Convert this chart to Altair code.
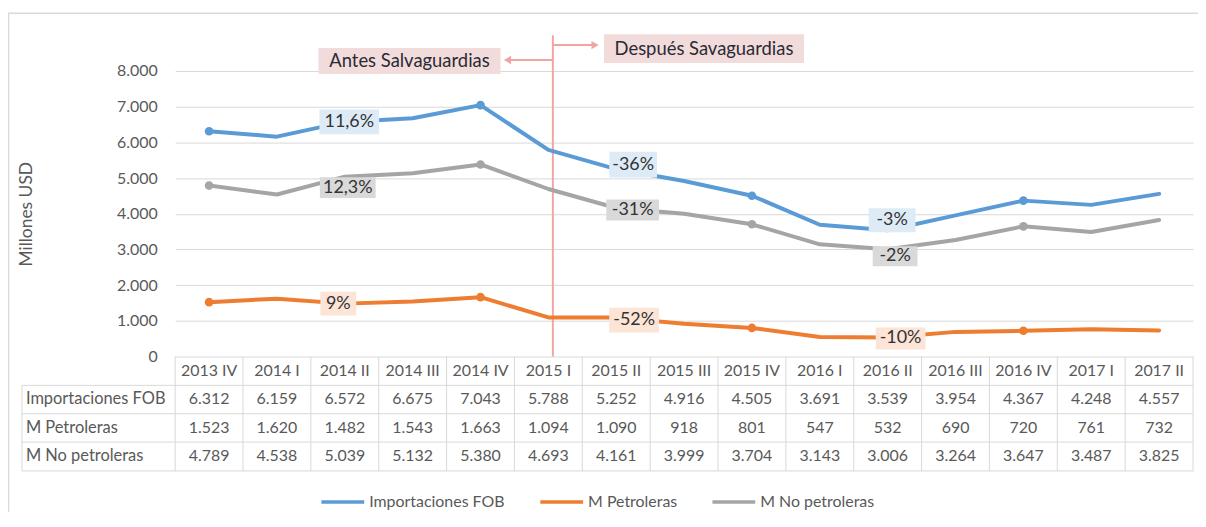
import altair as alt
import pandas as pd

# ---------------- data ----------------
categories = ["2013 IV", "2014 I", "2014 II", "2014 III", "2014 IV", "2015 I", "2015 II",
              "2015 III", "2015 IV", "2016 I", "2016 II", "2016 III", "2016 IV", "2017 I", "2017 II"]
importaciones_fob = [6312, 6159, 6572, 6675, 7043, 5788, 5252, 4916, 4505, 3691, 3539, 3954, 4367, 4248, 4557]
m_petroleras = [1523, 1620, 1482, 1543, 1663, 1094, 1090, 918, 801, 547, 532, 690, 720, 761, 732]
m_no_petroleras = [4789, 4538, 5039, 5132, 5380, 4693, 4161, 3999, 3704, 3143, 3006, 3264, 3647, 3487, 3825]
series_names = ["Importaciones FOB", "M Petroleras", "M No petroleras"]
series_values = [importaciones_fob, m_petroleras, m_no_petroleras]
marker_categories = ["2013 IV", "2014 IV", "2015 IV", "2016 IV"]
y_ticks = [0, 1000, 2000, 3000, 4000, 5000, 6000, 7000, 8000]

label_series = ["Importaciones FOB", "M No petroleras", "M Petroleras",
                "Importaciones FOB", "M No petroleras", "M Petroleras",
                "Importaciones FOB", "M No petroleras", "M Petroleras"]
label_categories = ["2014 II", "2014 II", "2014 II", "2015 II", "2015 II", "2015 II",
                    "2016 II", "2016 II", "2016 II"]
label_texts = ["11,6%", "12,3%", "9%", "-36%", "-31%", "-52%", "-3%", "-2%", "-10%"]

before_text = "Antes Salvaguardias"
after_text = "Después Savaguardias"
break_category = "2015 I"
y_title = "Millones USD"

# ---------------- style / layout ----------------
series_colors = ["#5B9BD5", "#ED7D31", "#A5A5A5"]
label_fill = {"Importaciones FOB": "#DDEBF7", "M Petroleras": "#FCE4D6", "M No petroleras": "#D9D9D9"}
label_dx = [4.5, 3, -6.5, 17, 16.5, 18, 4.5, 7.5, 13]
label_dy = [0, 11, 0, -4.5, 2, 2.5, -10, 7, 1]
box_w = [60, 56, 36, 48, 53, 50, 47, 45, 50]
box_h = [25, 21, 24, 26, 21, 25, 24, 20, 22]

FONT = "Lato"
W, H = 1023, 287
TXT = "#595959"
GRID = "#D9D9D9"
PINK = "#F4A3A3"
PINK_FILL = "#F2DCDB"
DARK = "#2A2A35"

header_y = 301.5
row_y = [330, 358.5, 387.5]
row_lines = [316, 344.5, 373, 402]
table_left = -154
BOTTOM_PAD = 156

n = len(categories)
step = W / n

# long table
rows = []
for s, vals in zip(series_names, series_values):
    for i, (c, v) in enumerate(zip(categories, vals)):
        rows.append({"idx": i, "category": c, "series": s, "value": v})
df = pd.DataFrame(rows)

xscale = alt.Scale(domain=[-0.5, n - 0.5], nice=False, zero=False)
yscale = alt.Scale(domain=[0, 8000], nice=False)
yaxis = alt.Axis(
    values=y_ticks, labelExpr="replace(format(datum.value, ','), ',', '.')",
    grid=True, gridColor=GRID, gridWidth=1, domain=False, ticks=False, tickSize=0,
    labelPadding=18, labelFont=FONT, labelFontSize=16, labelColor=TXT, title=None)
X = alt.X("idx:Q", scale=xscale, axis=None)
Y = alt.Y("value:Q", scale=yscale, axis=yaxis)
one = pd.DataFrame({"k": [0]})

layers = []

# frame
layers.append(alt.Chart(one).mark_rule(color=GRID, strokeWidth=1.5).encode(
    x=alt.value(-168), x2=alt.value(W + 5), y=alt.value(-58)))
layers.append(alt.Chart(one).mark_rule(color=GRID, strokeWidth=1.5).encode(
    x=alt.value(-167.5), y=alt.value(-58), y2=alt.value(H + BOTTOM_PAD)))

# table grid
bounds = pd.DataFrame({"bx": [i - 0.5 for i in range(n + 1)]})
layers.append(alt.Chart(bounds).mark_rule(color=GRID).encode(
    x=alt.X("bx:Q", scale=xscale, axis=None), y=alt.value(H), y2=alt.value(row_lines[-1])))
layers.append(alt.Chart(one).mark_rule(color=GRID).encode(
    x=alt.value(table_left), y=alt.value(row_lines[0]), y2=alt.value(row_lines[-1])))
for yy in row_lines:
    layers.append(alt.Chart(one).mark_rule(color=GRID).encode(
        x=alt.value(table_left), x2=alt.value(W), y=alt.value(yy)))

# table text
hdr = pd.DataFrame({"idx": list(range(n)), "category": categories})
layers.append(alt.Chart(hdr).mark_text(font=FONT, fontSize=16, color=TXT).encode(
    x=X, y=alt.value(header_y), text="category:N"))
for k, s in enumerate(series_names):
    layers.append(alt.Chart(df).transform_filter(alt.datum.series == s).transform_calculate(
        txt="replace(format(datum.value, ','), ',', '.')").mark_text(
        font=FONT, fontSize=16, color=TXT).encode(x=X, y=alt.value(row_y[k]), text="txt:N"))
    layers.append(alt.Chart(pd.DataFrame({"series": [s]})).mark_text(
        font=FONT, fontSize=16.5, color=TXT, align="left").encode(
        x=alt.value(table_left + 4), y=alt.value(row_y[k]), text="series:N"))

# y title
layers.append(alt.Chart(pd.DataFrame({"t": [y_title]})).mark_text(
    font=FONT, fontSize=17.5, color=TXT, angle=270).encode(
    x=alt.value(-149), y=alt.value(144), text="t:N"))

# break annotation
bi = categories.index(break_category)
bx_px = (bi + 0.5) * step + 4.5
layers.append(alt.Chart(one).mark_rule(color=PINK, strokeWidth=2).encode(
    x=alt.value(bx_px), y=alt.value(-36), y2=alt.value(H)))
layers.append(alt.Chart(one).mark_rule(color=PINK, strokeWidth=2).encode(
    x=alt.value(bx_px), x2=alt.value(334), y=alt.value(-11)))
layers.append(alt.Chart(one).mark_rule(color=PINK, strokeWidth=2).encode(
    x=alt.value(bx_px), x2=alt.value(422), y=alt.value(-26)))
layers.append(alt.Chart(one).mark_point(shape="triangle-left", filled=True, size=70, color=PINK, opacity=1).encode(
    x=alt.value(334), y=alt.value(-11)))
layers.append(alt.Chart(one).mark_point(shape="triangle-right", filled=True, size=70, color=PINK, opacity=1).encode(
    x=alt.value(422), y=alt.value(-26)))
# annotation boxes
layers.append(alt.Chart(one).mark_rect(color=PINK_FILL).encode(
    x=alt.value(144), x2=alt.value(327), y=alt.value(-23), y2=alt.value(3)))
layers.append(alt.Chart(pd.DataFrame({"t": [before_text]})).mark_text(
    font=FONT, fontSize=18.5, color=DARK).encode(x=alt.value(235.5), y=alt.value(-10), text="t:N"))
layers.append(alt.Chart(one).mark_rect(color=PINK_FILL).encode(
    x=alt.value(431), x2=alt.value(632), y=alt.value(-37), y2=alt.value(-8)))
layers.append(alt.Chart(pd.DataFrame({"t": [after_text]})).mark_text(
    font=FONT, fontSize=18.5, color=DARK).encode(x=alt.value(531.5), y=alt.value(-22.5), text="t:N"))

# lines
layers.append(alt.Chart(df).mark_line(strokeWidth=4, strokeCap="round", strokeJoin="round").encode(
    x=X, y=Y,
    color=alt.Color("series:N", scale=alt.Scale(domain=series_names, range=series_colors),
                    legend=alt.Legend(orient="none", legendX=145, legendY=409.5, direction="horizontal",
                                      title=None, symbolType="stroke", symbolSize=1849,
                                      symbolStrokeWidth=3.5, labelFont=FONT, labelFontSize=16,
                                      labelColor=TXT, labelOffset=3, columnPadding=28, padding=0)),
    order="idx:Q"))

# markers
layers.append(alt.Chart(df).transform_filter(
    alt.FieldOneOfPredicate(field="category", oneOf=marker_categories)).mark_circle(size=75, opacity=1).encode(
    x=X, y=Y,
    fill=alt.Fill("series:N", scale=alt.Scale(domain=series_names, range=series_colors), legend=None)))

# data labels
for j, (s, c, t) in enumerate(zip(label_series, label_categories, label_texts)):
    i = categories.index(c)
    v = series_values[series_names.index(s)][i]
    d = pd.DataFrame({"idx": [i], "value": [v], "t": [t]})
    layers.append(alt.Chart(d).mark_rect(width=box_w[j], height=box_h[j], xOffset=label_dx[j],
                                         yOffset=label_dy[j], color=label_fill[s]).encode(x=X, y=Y))
    layers.append(alt.Chart(d).mark_text(font=FONT, fontSize=18, color="#333333",
                                         dx=label_dx[j], dy=label_dy[j]).encode(x=X, y=Y, text="t:N"))

chart = alt.layer(*layers).properties(
    width=W, height=H,
    autosize=alt.AutoSizeParams(type="none"),
    padding={"left": 168, "top": 62, "right": 5, "bottom": BOTTOM_PAD},
).configure_view(stroke=None)

chart.save("out.html", embed_options={"renderer": "svg", "actions": False})
